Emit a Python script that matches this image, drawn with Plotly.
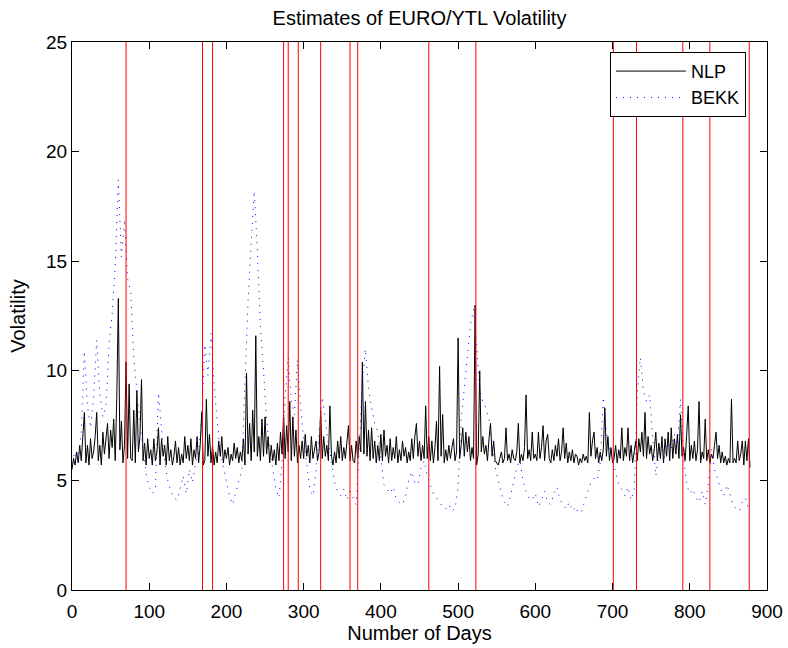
import plotly.graph_objects as go

# NLP volatility estimates, one value every 2 days (day 0 .. 878)
nlp_step = 2
nlp_values = [
    5.5,6.0,5.7,6.3,5.8,6.6,5.9,7.0,8.1,5.8,6.6,5.7,6.9,6.0,6.3,7.0,8.1,5.9,6.6,5.7,7.2,6.2,6.9,7.6,6.0,
    7.3,6.5,7.8,5.9,8.8,13.3,6.4,7.7,5.8,6.6,10.4,6.0,9.4,6.0,5.9,8.2,5.8,9.1,6.3,7.0,9.6,5.9,6.7,5.7,6.9,
    6.0,6.4,5.7,6.9,5.9,6.3,7.4,5.7,6.9,6.1,6.6,5.7,7.0,5.9,6.4,5.7,6.1,6.8,5.8,6.5,5.7,6.2,5.8,7.0,6.0,
    6.6,5.9,6.9,5.7,6.4,6.0,7.0,5.8,6.6,8.1,5.7,5.9,8.7,6.1,7.1,5.8,6.6,5.7,6.3,5.8,6.8,6.1,7.0,5.8,6.4,
    6.0,6.5,5.7,6.2,5.9,6.7,6.0,6.5,5.8,6.3,5.9,6.9,5.7,9.9,6.2,7.6,5.9,8.2,6.3,11.6,6.1,7.0,5.9,7.8,6.1,
    7.9,6.2,7.0,5.8,6.6,5.9,6.4,5.7,6.7,5.9,7.2,6.2,8.0,6.0,7.5,6.3,8.6,5.9,7.9,6.1,7.3,5.8,6.6,6.0,6.8,
    6.0,7.1,6.1,6.6,5.8,7.0,6.0,6.4,6.8,5.9,6.3,8.2,6.0,7.0,6.1,6.6,5.9,8.4,6.1,5.7,6.3,5.8,6.8,6.0,7.0,
    5.9,6.5,6.0,6.8,7.5,5.9,6.6,5.9,5.8,6.8,6.0,7.0,6.3,10.4,6.2,8.6,6.1,7.3,5.9,7.4,6.0,6.8,5.8,6.6,5.9,
    7.1,5.9,7.3,6.1,6.6,5.8,6.9,5.9,6.5,6.0,7.0,5.8,6.4,5.9,6.8,6.1,6.5,5.8,6.3,5.9,6.9,6.0,7.0,7.6,6.1,
    6.8,5.9,6.6,6.0,8.4,6.0,7.0,5.9,6.8,5.8,6.5,7.7,5.9,10.2,6.1,8.0,5.8,6.4,5.9,6.6,6.0,6.5,6.9,5.9,6.3,
    11.5,6.0,6.6,7.4,6.1,7.2,6.3,7.0,5.9,6.5,6.0,13.0,5.7,6.2,10.0,6.3,7.0,6.2,6.6,5.9,6.9,7.6,6.1,6.8,5.9,
    5.8,5.7,6.0,6.3,5.8,6.0,7.4,5.9,6.2,5.8,6.4,6.0,5.9,6.3,7.6,5.8,6.2,5.9,6.5,8.9,6.0,6.4,5.9,7.2,6.0,
    6.2,5.9,7.2,6.0,6.5,7.5,5.9,6.8,7.1,6.0,5.8,6.4,5.9,6.6,6.1,6.9,5.9,6.3,7.4,6.0,6.7,5.8,6.3,5.9,6.4,
    5.8,6.2,6.1,5.7,6.0,5.8,6.2,5.9,6.1,5.8,8.1,6.1,6.8,7.2,6.0,6.5,5.8,6.3,5.9,6.4,8.3,6.1,7.0,5.9,6.5,
    5.8,6.0,6.6,5.8,6.4,6.0,7.4,5.9,6.5,6.1,7.4,5.9,6.6,5.8,6.3,6.8,5.9,6.9,6.3,7.2,6.1,8.1,6.0,7.0,6.2,
    6.6,5.9,6.4,7.2,5.9,6.7,6.0,7.0,5.8,6.9,6.1,7.2,5.9,7.4,6.0,6.9,6.2,7.1,6.0,8.0,6.1,6.5,5.9,7.1,8.4,
    5.9,6.6,6.0,6.8,5.9,6.4,8.6,5.8,6.3,6.0,7.8,5.9,6.4,5.8,6.2,6.0,6.6,7.2,6.0,6.6,5.8,6.3,5.8,6.1,5.7,
    6.0,5.8,8.7,5.8,6.0,5.8,6.8,5.9,6.2,6.8,5.7,6.8,5.9,6.9,5.6,
]

# BEKK volatility estimates, one value every 4 days (day 0 .. 876)
bekk_step = 4
bekk_values = [
    5.8,6.3,5.9,7.2,10.9,8.4,7.4,8.8,11.4,9.0,7.9,8.4,11.2,12.6,14.8,18.7,15.2,16.9,14.2,13.6,
    10.6,9.0,7.6,6.4,5.3,4.7,4.4,4.6,9.0,7.3,5.9,5.0,4.5,4.2,4.1,4.6,5.2,4.4,5.5,4.9,
    5.8,6.2,8.0,11.2,9.8,11.7,9.4,7.7,6.4,5.6,5.0,4.3,3.9,4.4,4.9,5.5,9.5,13.2,15.8,18.2,
    15.5,12.0,10.0,7.8,6.4,5.4,4.6,4.2,5.8,8.9,10.6,8.6,8.0,10.5,8.4,6.9,5.6,4.6,4.3,5.4,
    7.2,8.8,7.8,6.6,5.9,4.9,4.5,4.3,4.6,4.1,4.5,4.2,3.9,6.5,9.5,11.0,9.2,8.3,7.6,7.2,
    5.9,4.8,4.6,4.4,4.7,4.1,4.0,3.9,4.3,5.0,5.4,4.9,4.8,5.6,5.9,5.2,4.8,4.4,4.2,4.0,
    3.8,3.7,3.9,3.6,3.7,4.7,7.8,9.2,10.6,12.1,12.8,11.2,9.1,8.6,8.3,7.8,6.7,5.6,5.0,4.4,
    4.0,3.8,4.3,5.0,5.6,5.9,5.0,4.5,4.2,4.1,4.4,3.8,4.1,4.5,4.0,3.9,4.4,4.7,4.1,3.9,
    3.7,4.0,3.6,3.8,3.5,3.6,4.1,4.5,4.9,5.1,5.0,5.8,8.8,7.2,6.5,5.9,5.4,4.8,4.6,4.3,
    4.7,4.1,4.6,9.0,10.6,9.1,8.6,8.9,7.0,5.2,6.2,6.6,6.0,6.9,6.4,7.1,6.6,8.7,6.0,4.8,
    4.4,4.6,4.2,4.0,4.5,3.9,4.8,6.4,5.5,5.0,4.6,4.3,4.8,4.4,3.9,3.7,3.6,4.0,4.2,3.7,
]

# Days marked with red vertical lines
event_days = [70, 169, 182, 274, 280, 293, 322, 360, 370, 462, 523, 701, 731, 791, 826, 877]

x_ticks = [0, 100, 200, 300, 400, 500, 600, 700, 800, 900]
y_ticks = [0, 5, 10, 15, 20, 25]
x_range = [0, 900]
y_range = [0, 25]

nlp_days = [i * nlp_step for i in range(len(nlp_values))]
bekk_days = [i * bekk_step for i in range(len(bekk_values))]

FONT = "Liberation Sans, Arial, Helvetica, sans-serif"

fig = go.Figure()

fig.add_trace(go.Scatter(
    x=nlp_days, y=nlp_values, mode="lines", name="NLP",
    line=dict(color="black", width=1),
))
fig.add_trace(go.Scatter(
    x=bekk_days, y=bekk_values, mode="lines", name="BEKK",
    line=dict(color="blue", width=1, dash="1px,6px"),
))

vx, vy = [], []
for d in event_days:
    vx += [d, d, None]
    vy += [y_range[0], y_range[1], None]
fig.add_trace(go.Scatter(
    x=vx, y=vy, mode="lines", showlegend=False, hoverinfo="skip",
    line=dict(color="red", width=1),
))

axis_common = dict(
    showgrid=False, zeroline=False, showline=True, linecolor="black", linewidth=1,
    mirror="ticks", ticks="inside", ticklen=7, tickcolor="black", tickwidth=1,
    tickfont=dict(family=FONT, size=19, color="black"), automargin=False,
)

fig.update_layout(
    width=788, height=648,
    margin=dict(l=72, r=21, t=42, b=58),
    paper_bgcolor="white", plot_bgcolor="white",
    font=dict(family=FONT, color="black"),
    title=dict(text="Estimates of EURO/YTL Volatility", x=0.5, xref="paper",
               y=1 - 18 / 648, yref="container", yanchor="middle",
               font=dict(family=FONT, size=20, color="black")),
    xaxis=dict(range=x_range, tickvals=x_ticks, ticklabelstandoff=4, **axis_common,
               title=dict(text="Number of Days", standoff=4,
                          font=dict(family=FONT, size=20, color="black"))),
    yaxis=dict(range=y_range, tickvals=y_ticks, **axis_common,
               title=dict(text="Volatility", standoff=15,
                          font=dict(family=FONT, size=20, color="black"))),
    legend=dict(x=0.774, y=0.982, xanchor="left", yanchor="top",
                bgcolor="white", bordercolor="black", borderwidth=1,
                font=dict(family=FONT, size=18, color="black"),
                itemwidth=70),
    showlegend=True,
)

fig.write_html("out.html")
